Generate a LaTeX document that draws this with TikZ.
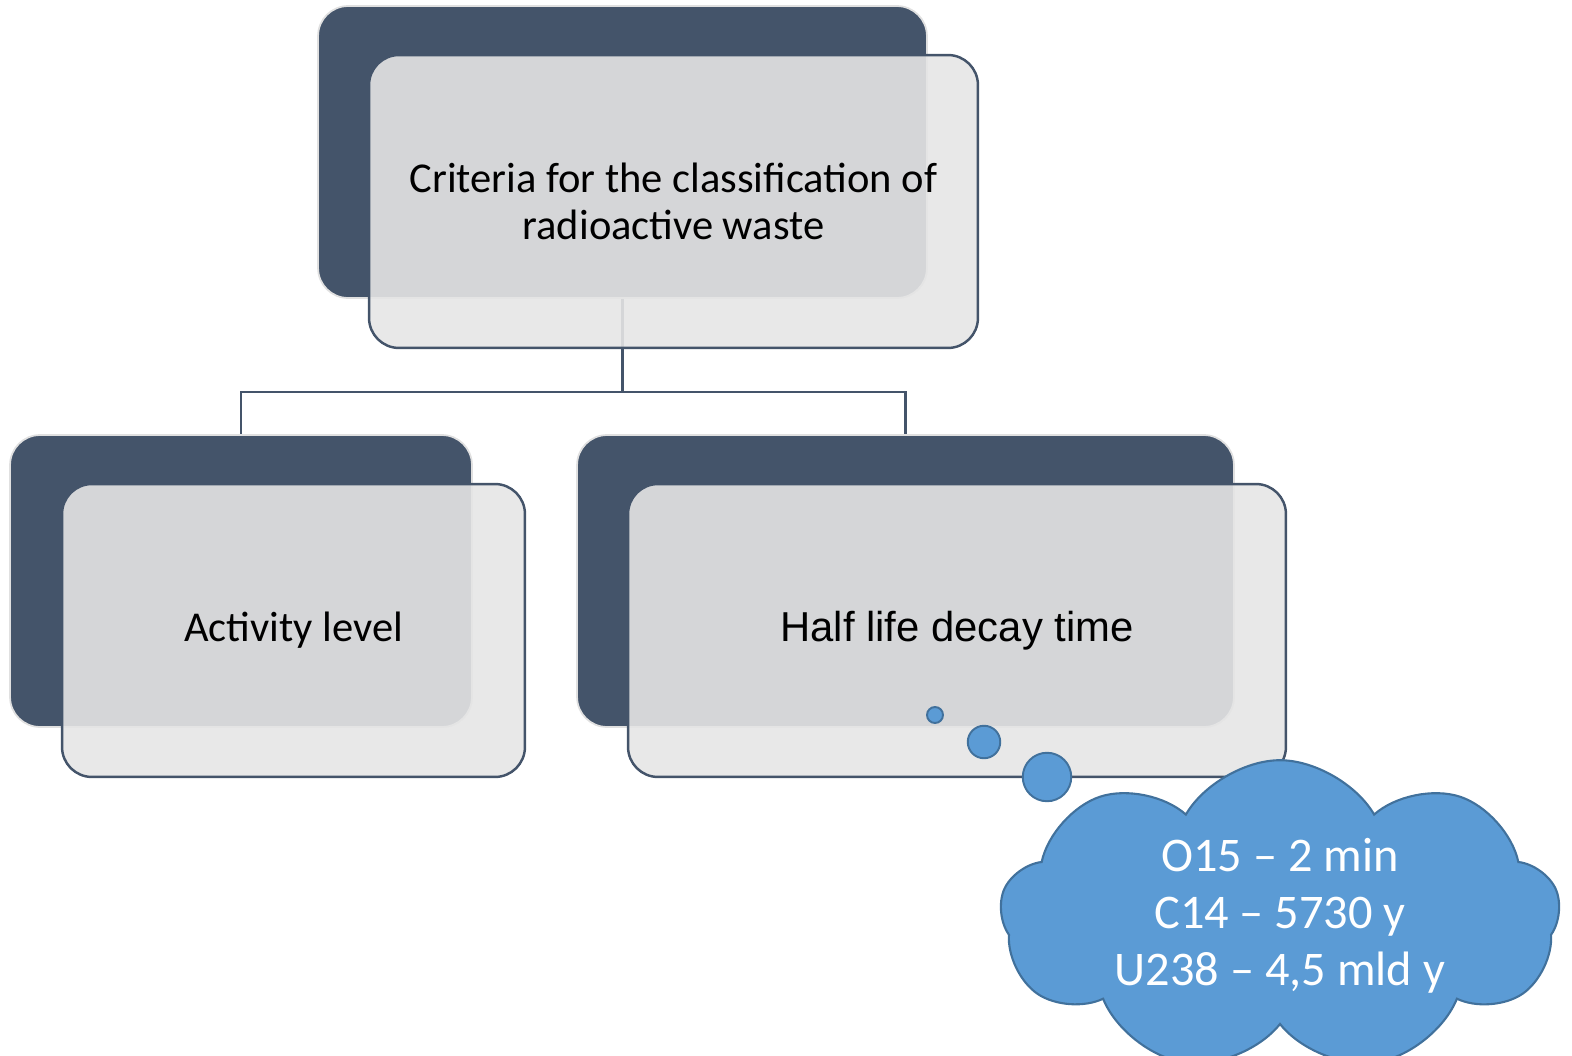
\documentclass[tikz,border=0pt]{standalone}
\usepackage{fontspec}
\setmainfont{Carlito}
\newfontfamily\arialfont{Liberation Sans}
\usetikzlibrary{shapes.geometric,shapes.symbols,positioning}
\definecolor{slate}{HTML}{44546A}
\definecolor{paleface}{HTML}{E5E5E5}
\definecolor{skyfill}{HTML}{5B9BD5}
\definecolor{skyedge}{HTML}{41719C}
\tikzset
{
    backbox/.style  = {rectangle, rounded corners=0.6cm, fill=slate, draw=black!12, line width=1pt, minimum height=5.84cm, inner sep=0pt},
    frontbox/.style = {rectangle, rounded corners=0.6cm, fill=paleface, fill opacity=0.9, text opacity=1, draw=slate, line width=1.4pt, minimum height=5.86cm, align=center, inner sep=0pt, font=\fontsize{24.2}{26.6}\selectfont},
    link/.style     = {draw=slate, line width=1.4pt},
    bubble/.style   = {circle, fill=skyfill, draw=skyedge, line width=1.1pt, inner sep=0pt},
    thought/.style  = {cloud, cloud puffs=9, cloud puff arc=120, aspect=2, fill=skyfill, draw=skyedge, line width=1.2pt, text=white, align=center, inner sep=0pt, font=\fontsize{27.5}{32.3}\selectfont}
}

\begin{document}
\begin{tikzpicture}[x=0.02cm, y=-0.02cm]
	\useasboundingbox (0,0) rectangle (1572,1055);

	% back cards
	\node (btop) [backbox, minimum width=12.18cm] at (622.5,152) {};
	\node (bleft) [backbox, minimum width=9.24cm] at (241,581) {};
	\node (bright) [backbox, minimum width=13.14cm] at (905.5,581) {};

	% tree lines
	\draw [link] (btop.south) -- ++(0,93) coordinate (hub) -| (bleft.north);
	\draw [link] (hub) -| (bright.north);

	% front cards
	\node (ftop) [frontbox, minimum width=12.18cm, at=(btop.center), xshift=1.02cm, yshift=-0.99cm] {Criteria for the classification of\\radioactive waste};
	\node (fleft) [frontbox, minimum width=9.26cm, at=(bleft.center), xshift=1.05cm, yshift=-0.99cm] {Activity level};
	\node (fright) [frontbox, minimum width=13.16cm, at=(bright.center), xshift=1.03cm, yshift=-0.99cm, font=\arialfont\fontsize{23.8}{26.6}\selectfont] {Half life decay time};

	% thought bubble
	\node (dot1) [bubble, minimum size=0.32cm] at (935,715) {};
	\node (dot2) [bubble, minimum size=0.65cm] at (984,742) {};
	\node (dot3) [bubble, minimum size=0.97cm] at (1047,777) {};
	\node (halflives) [thought, minimum width=11.2cm, minimum height=5.7cm] at (1280,916) {O15 -- 2 min\\C14 -- 5730 y\\U238 -- 4,5 mld y};
\end{tikzpicture}
\end{document}
